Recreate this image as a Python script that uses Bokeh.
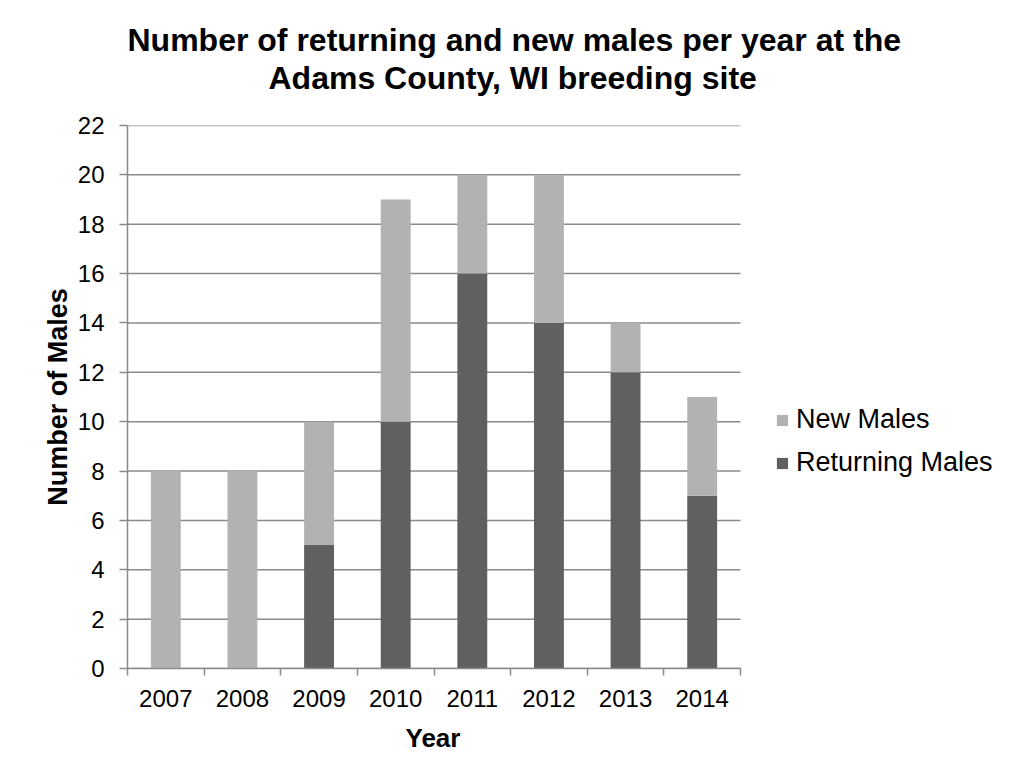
from bokeh.plotting import figure
from bokeh.models import Range1d, FixedTicker, Legend, LegendItem, Title, ColumnDataSource
from bokeh.embed import file_html
from bokeh.resources import INLINE

# ---- data ----
years = ["2007", "2008", "2009", "2010", "2011", "2012", "2013", "2014"]
returning_males = [0, 0, 5, 10, 16, 14, 12, 7]
new_males = [8, 8, 5, 9, 4, 6, 2, 4]
y_ticks = [0, 2, 4, 6, 8, 10, 12, 14, 16, 18, 20, 22]
title_lines = ["Number of returning and new males per year at the",
               "Adams County, WI breeding site"]
x_title = "Year"
y_title = "Number of Males"

# ---- styles / layout ----
FONT = "Liberation Sans"
NEW_COLOR = "#b2b2b2"
RET_COLOR = "#606060"
GRID_COLOR = "#8a8a8a"
PLOT_W = 613        # width of the bar area in px
FIG_W, FIG_H = 997, 760
LEFT, TOP, BOTTOM = 127, 125, 92
# the drawing frame also covers the legend area on the right
frame_w = FIG_W - LEFT
n = len(years)
x_end = n * frame_w / PLOT_W

xpos = [i + 0.5 for i in range(n)]
source = ColumnDataSource(dict(x=xpos, ret=returning_males, new=new_males))

p = figure(width=FIG_W, height=FIG_H, output_backend="svg", toolbar_location=None,
           x_range=Range1d(0, x_end), y_range=Range1d(0, 22),
           min_border_left=LEFT, min_border_right=0,
           min_border_top=TOP, min_border_bottom=BOTTOM)
p.outline_line_color = None
p.background_fill_color = "white"
p.border_fill_color = "white"

# horizontal gridlines limited to the bar area
p.xgrid.visible = False
p.ygrid.visible = False
p.segment(x0=0, x1=n, y0=y_ticks, y1=y_ticks, line_color=GRID_COLOR,
          line_width=1.5, level="underlay")

renderers = p.vbar_stack(["ret", "new"], x="x", width=0.39, source=source,
                         color=[RET_COLOR, NEW_COLOR], line_color=None)
r_ret, r_new = renderers

# y axis
ya = p.yaxis[0]
ya.ticker = FixedTicker(ticks=y_ticks)
ya.axis_line_color = GRID_COLOR
ya.axis_line_width = 1.5
ya.major_tick_line_color = GRID_COLOR
ya.major_tick_line_width = 1.5
ya.major_tick_out = 8
ya.major_tick_in = 0
ya.minor_tick_line_color = None
ya.major_label_standoff = 15
ya.major_label_text_font = FONT
ya.major_label_text_font_size = "24px"
ya.major_label_text_color = "black"
ya.axis_label = y_title
ya.axis_label_text_font = FONT
ya.axis_label_text_font_size = "27px"
ya.axis_label_text_font_style = "bold"
ya.axis_label_text_color = "black"
ya.axis_label_standoff = 2

# x axis (limited to the bar area)
xa = p.xaxis[0]
xa.bounds = (0, n)
xa.ticker = FixedTicker(ticks=xpos, minor_ticks=list(range(n + 1)))
xa.major_label_overrides = {x: y for x, y in zip(xpos, years)}
xa.axis_line_color = GRID_COLOR
xa.axis_line_width = 1.5
xa.major_tick_line_color = None
xa.major_tick_out = 7
xa.major_tick_in = 0
xa.minor_tick_line_color = GRID_COLOR
xa.minor_tick_line_width = 1.5
xa.minor_tick_out = 7
xa.minor_tick_in = 0
xa.major_label_standoff = 14
xa.major_label_text_font = FONT
xa.major_label_text_font_size = "24px"
xa.major_label_text_color = "black"

# x axis title, centred under the bar area (small spacer above it)
p.add_layout(Title(text=" ", text_font_size="1px", standoff=10), "below")
p.add_layout(Title(text=x_title, align="left", offset=278, standoff=0,
                   vertical_align="top", text_font=FONT, text_font_size="26px",
                   text_font_style="bold", text_color="black"), "below")

# title: spacer nearest the plot, then line 2, then line 1 on top
p.add_layout(Title(text=" ", text_font_size="1px", standoff=27), "above")
p.add_layout(Title(text=title_lines[1], align="left", offset=141, standoff=0,
                   text_font=FONT, text_font_size="32px", text_font_style="bold",
                   text_color="black"), "above")
p.add_layout(Title(text=title_lines[0], align="left", offset=0, standoff=0,
                   text_font=FONT, text_font_size="32px", text_font_style="bold",
                   text_color="black"), "above")

# legend, right of the bars
legend = Legend(items=[LegendItem(label="New Males", renderers=[r_new]),
                       LegendItem(label="Returning Males", renderers=[r_ret])],
                location=(648, 190), orientation="vertical",
                glyph_width=14, glyph_height=14, label_standoff=7,
                spacing=12, padding=0, margin=0, label_height=30,
                border_line_color=None, background_fill_alpha=0,
                label_text_font=FONT, label_text_font_size="27px",
                label_text_color="black")
p.add_layout(legend)

open("out.html", "w").write(file_html(p, INLINE))
